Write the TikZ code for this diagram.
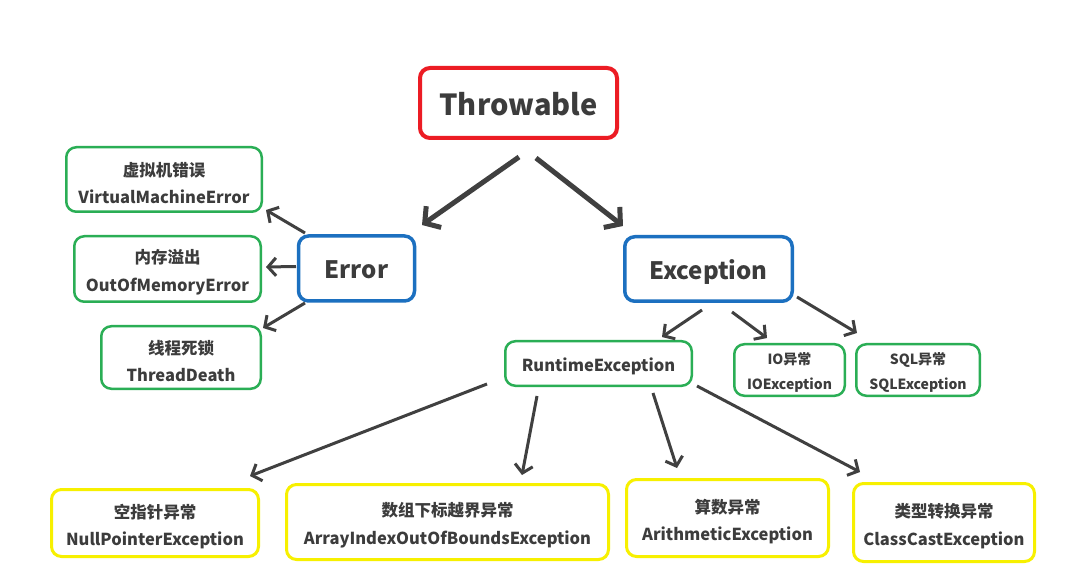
\documentclass[tikz,border=0pt]{standalone}
\usepackage{fontspec}
\setmainfont{Noto Sans CJK SC}
\usetikzlibrary{arrows.meta,calc}
\definecolor{txt}{HTML}{3C3C3C}
\definecolor{arr}{HTML}{404040}
\definecolor{cred}{HTML}{EC1C24}
\definecolor{cblue}{HTML}{1C70C0}
\definecolor{cgreen}{HTML}{2AAE55}
\definecolor{cyellow}{HTML}{F7F000}
\newcommand\mydn{\rule{0pt}{21pt}}
\newcommand\mydnsmall{\rule{0pt}{17pt}}
\newcommand\mylow[2]{\raisebox{-#1}[\height][\depth]{#2}}
\tikzset{
  box/.style={rounded corners=10pt, fill=white, text=txt, align=center, inner sep=0pt},
  redbox/.style={box, draw=cred, line width=4pt, font=\bfseries\fontsize{29}{32}\selectfont},
  bluebox/.style={box, draw=cblue, line width=3.5pt, font=\bfseries\fontsize{24}{28}\selectfont},
  greenbox/.style={box, draw=cgreen, line width=2.5pt, font=\bfseries\fontsize{16.5}{27.5}\selectfont},
  smallgreen/.style={box, draw=cgreen, line width=2.5pt, font=\bfseries\fontsize{14}{25}\selectfont},
  yellowbox/.style={box, draw=cyellow, line width=3pt, font=\bfseries\fontsize{16.5}{27.5}\selectfont},
  bigarrow/.style={draw=arr, line width=5pt, -{Straight Barb[length=11pt,width=26pt]}},
  conn/.style={draw=arr, line width=3pt, -{Straight Barb[length=8pt,width=18pt]}}
}
\begin{document}
\begin{tikzpicture}[x=1pt,y=-1pt]
\fill[white] (0,0) rectangle (1066,577);
\useasboundingbox (0,0) rectangle (1066,577);

\node[redbox, minimum width=197pt, minimum height=70pt] (thr) at (518.5,103) {\mylow{1.5pt}{Throwable}};
\node[bluebox, minimum width=116pt, minimum height=65pt] (err) at (356.5,268.5) {\mylow{1.5pt}{Error}};
\node[bluebox, minimum width=167.5pt, minimum height=64.5pt] (exc) at (708.5,269) {\mylow{3pt}{Exception}};

\node[greenbox, minimum width=195.5pt, minimum height=64.5pt] (vme) at (164,179.5) {\mydn 虚拟机错误\\VirtualMachineError};
\node[greenbox, minimum width=186.5pt, minimum height=65.5pt] (oom) at (167.5,269) {\mydn 内存溢出\\OutOfMemoryError};
\node[greenbox, minimum width=159.5pt, minimum height=62.5pt] (td) at (181,357.5) {\mydn 线程死锁\\ThreadDeath};

\node[greenbox, minimum width=186.5pt, minimum height=44.5pt] (rte) at (598.5,363.5) {\mylow{2.5pt}{RuntimeException}};
\node[smallgreen, minimum width=110.5pt, minimum height=51.5pt] (ioe) at (789.5,370) {\mydnsmall IO异常\\IOException};
\node[smallgreen, minimum width=123.5pt, minimum height=51.5pt] (sql) at (918,370) {\mydnsmall SQL异常\\SQLException};

\node[yellowbox, minimum width=207pt, minimum height=67pt] (npe) at (155,523) {\mydn 空指针异常\\NullPointerException};
\node[yellowbox, minimum width=322pt, minimum height=75pt] (aio) at (447.5,522) {\mydn 数组下标越界异常\\ArrayIndexOutOfBoundsException};
\node[yellowbox, minimum width=202pt, minimum height=77pt] (ari) at (727.5,518) {\mydn 算数异常\\ArithmeticException};
\node[yellowbox, minimum width=181pt, minimum height=78pt] (cce) at (944,522.5) {\mydn 类型转换异常\\ClassCastException};

\draw[bigarrow] ($(thr.center)+(0.5,54)$) -- ($(err.center)+(65.5,-43.5)$);
\draw[bigarrow] ($(thr.center)+(17.5,55)$) -- ($(exc.center)+(-85.5,-43)$);

\draw[conn] ($(err.center)+(-51.5,-35.5)$) -- ($(vme.center)+(102,30.5)$);
\draw[conn] ($(err.center)+(-60.5,-2)$) -- ($(oom.center)+(98.5,-2)$);
\draw[conn] ($(err.center)+(-51.5,34.5)$) -- ($(td.center)+(82,-29.5)$);

\draw[conn] ($(exc.center)+(-6.5,41)$) -- ($(rte.center)+(63.5,-26.5)$);
\draw[conn] ($(exc.center)+(23.5,43)$) -- ($(ioe.center)+(-22.5,-32)$);
\draw[conn] ($(exc.center)+(88.5,28)$) -- ($(sql.center)+(-61,-37)$);

\draw[conn] ($(rte.center)+(-111.5,20.5)$) -- ($(npe.center)+(95,-47)$);
\draw[conn] ($(rte.center)+(-61.5,32.5)$) -- ($(aio.center)+(74.5,-47)$);
\draw[conn] ($(rte.center)+(54.5,29.5)$) -- ($(ari.center)+(-50.5,-50)$);
\draw[conn] ($(rte.center)+(98.5,22.5)$) -- ($(cce.center)+(-84,-50.5)$);
\end{tikzpicture}
\end{document}
